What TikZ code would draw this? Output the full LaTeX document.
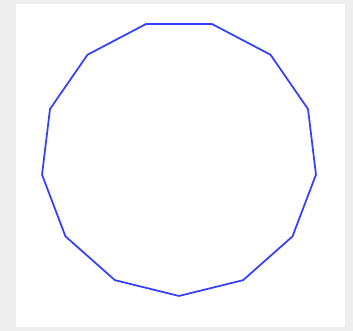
\documentclass[tikz,border=0pt]{standalone}
\usepackage{tikz}
\usetikzlibrary{shapes.geometric}

\definecolor{polyblue}{RGB}{52,64,255}
\definecolor{backgray}{RGB}{238,238,238}

\begin{document}
\begin{tikzpicture}[
    x=0.02cm, y=0.02cm,
    sheet/.style={fill=white, draw=none},
    poly/.style={
        draw=polyblue, line width=1pt,
        regular polygon, regular polygon sides=13,
        shape border rotate=180,
        minimum size=5.52cm, inner sep=0pt, outer sep=0pt
    }
]
% background and white sheet
\fill[backgray] (0,0) rectangle (353,331);
\useasboundingbox (0,0) rectangle (353,331);
\fill[sheet] (16,4) rectangle (345,327);

\node[poly] (tridecagon) at (179,173) {};

\end{tikzpicture}
\end{document}
